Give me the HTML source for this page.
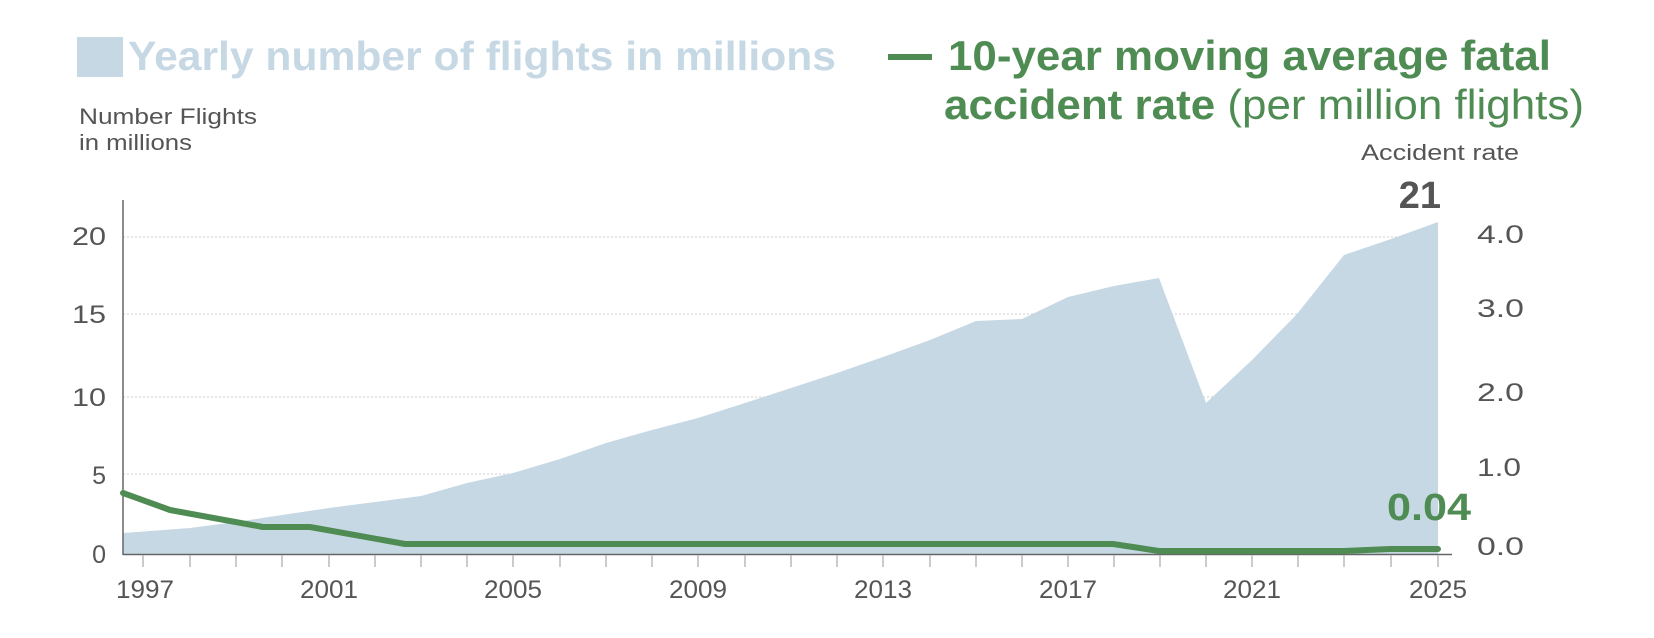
<!DOCTYPE html>
<html><head><meta charset="utf-8"><style>
html,body{margin:0;padding:0;background:#fff;}
svg{display:block;font-family:"Liberation Sans",sans-serif;}
</style></head><body>
<svg width="1654" height="638" viewBox="0 0 1654 638">
<rect x="77" y="37" width="46" height="40" fill="#c6d8e4"/>
<text x="128" y="70" font-size="41" font-weight="bold" fill="#c6d8e4" textLength="708" lengthAdjust="spacingAndGlyphs">Yearly number of flights in millions</text>
<line x1="888" y1="57" x2="932" y2="57" stroke="#4f8c53" stroke-width="6"/>
<text x="948" y="70" font-size="42" font-weight="bold" fill="#4f8c53" textLength="603" lengthAdjust="spacingAndGlyphs">10-year moving average fatal</text>
<text x="944" y="119" font-size="42" fill="#4f8c53" textLength="640" lengthAdjust="spacingAndGlyphs"><tspan font-weight="bold">accident rate</tspan> (per million flights)</text>
<text x="79" y="124" font-size="22" fill="#555" textLength="178" lengthAdjust="spacingAndGlyphs">Number Flights</text>
<text x="79" y="150" font-size="22" fill="#555" textLength="113" lengthAdjust="spacingAndGlyphs">in millions</text>
<text x="1519" y="160" font-size="22" fill="#555" text-anchor="end" textLength="158" lengthAdjust="spacingAndGlyphs">Accident rate</text>
<text x="1441" y="208" font-size="38" font-weight="bold" fill="#555" text-anchor="end">21</text>
<g stroke="#ccc" stroke-dasharray="2,2" stroke-width="1">
<line x1="123" y1="237" x2="1438" y2="237"/><line x1="123" y1="314" x2="1438" y2="314"/>
<line x1="123" y1="397" x2="1438" y2="397"/><line x1="123" y1="474" x2="1438" y2="474"/>
</g>
<polygon fill="#c6d8e4" points="123,533 190,528 236,522 282,515 329,508 375,502 421,496 467,483 513,473 560,459 606,443 652,430 698,418 745,403 791,388 837,373 883,357 930,340 976,321 1022,319 1068,297 1114,286 1159,278 1206,403 1252,360 1297,314 1344,255 1391,239 1438,222 1438,554 123,554"/>
<g fill="#555" font-size="25" text-anchor="end">
<text x="106" y="245" textLength="34" lengthAdjust="spacingAndGlyphs">20</text><text x="106" y="323" textLength="34" lengthAdjust="spacingAndGlyphs">15</text><text x="106" y="406" textLength="34" lengthAdjust="spacingAndGlyphs">10</text><text x="106" y="484">5</text><text x="106" y="563">0</text>
</g>
<g fill="#555" font-size="25">
<text x="1477" y="243" textLength="47" lengthAdjust="spacingAndGlyphs">4.0</text><text x="1477" y="317" textLength="47" lengthAdjust="spacingAndGlyphs">3.0</text><text x="1477" y="401" textLength="47" lengthAdjust="spacingAndGlyphs">2.0</text><text x="1477" y="476" textLength="44" lengthAdjust="spacingAndGlyphs">1.0</text><text x="1477" y="555" textLength="47" lengthAdjust="spacingAndGlyphs">0.0</text>
</g>
<line x1="123" y1="200" x2="123" y2="555" stroke="#666" stroke-width="1.5"/>
<line x1="123" y1="554.5" x2="1452" y2="554.5" stroke="#666" stroke-width="1.5"/>
<g stroke="#bbb" stroke-width="1.5">
<line x1="143" y1="555" x2="143" y2="567"/><line x1="190" y1="555" x2="190" y2="567"/><line x1="236" y1="555" x2="236" y2="567"/><line x1="282" y1="555" x2="282" y2="567"/><line x1="329" y1="555" x2="329" y2="567"/><line x1="375" y1="555" x2="375" y2="567"/><line x1="421" y1="555" x2="421" y2="567"/><line x1="467" y1="555" x2="467" y2="567"/><line x1="513" y1="555" x2="513" y2="567"/><line x1="560" y1="555" x2="560" y2="567"/><line x1="606" y1="555" x2="606" y2="567"/><line x1="652" y1="555" x2="652" y2="567"/><line x1="698" y1="555" x2="698" y2="567"/><line x1="745" y1="555" x2="745" y2="567"/><line x1="791" y1="555" x2="791" y2="567"/><line x1="837" y1="555" x2="837" y2="567"/><line x1="883" y1="555" x2="883" y2="567"/><line x1="930" y1="555" x2="930" y2="567"/><line x1="976" y1="555" x2="976" y2="567"/><line x1="1022" y1="555" x2="1022" y2="567"/><line x1="1068" y1="555" x2="1068" y2="567"/><line x1="1114" y1="555" x2="1114" y2="567"/><line x1="1160" y1="555" x2="1160" y2="567"/><line x1="1206" y1="555" x2="1206" y2="567"/><line x1="1252" y1="555" x2="1252" y2="567"/><line x1="1298" y1="555" x2="1298" y2="567"/><line x1="1344" y1="555" x2="1344" y2="567"/><line x1="1391" y1="555" x2="1391" y2="567"/><line x1="1438" y1="555" x2="1438" y2="567"/>
</g>
<g fill="#555" font-size="25" text-anchor="middle" lengthAdjust="spacingAndGlyphs">
<text x="145" y="598" textLength="58" lengthAdjust="spacingAndGlyphs">1997</text><text x="329" y="598" textLength="58" lengthAdjust="spacingAndGlyphs">2001</text><text x="513" y="598" textLength="58" lengthAdjust="spacingAndGlyphs">2005</text><text x="698" y="598" textLength="58" lengthAdjust="spacingAndGlyphs">2009</text><text x="883" y="598" textLength="58" lengthAdjust="spacingAndGlyphs">2013</text><text x="1068" y="598" textLength="58" lengthAdjust="spacingAndGlyphs">2017</text><text x="1252" y="598" textLength="58" lengthAdjust="spacingAndGlyphs">2021</text><text x="1438" y="598" textLength="58" lengthAdjust="spacingAndGlyphs">2025</text>
</g>
<polyline fill="none" stroke="#4f8c53" stroke-width="6" stroke-linecap="round" stroke-linejoin="round" points="123,493 170,510 263,527 310,527 405,544 1113,544 1159,551 1344,551 1390,549 1438,549"/>
<text x="1429" y="520" font-size="38" font-weight="bold" fill="#4f8c53" text-anchor="middle" textLength="84" lengthAdjust="spacingAndGlyphs">0.04</text>
</svg>
</body></html>
